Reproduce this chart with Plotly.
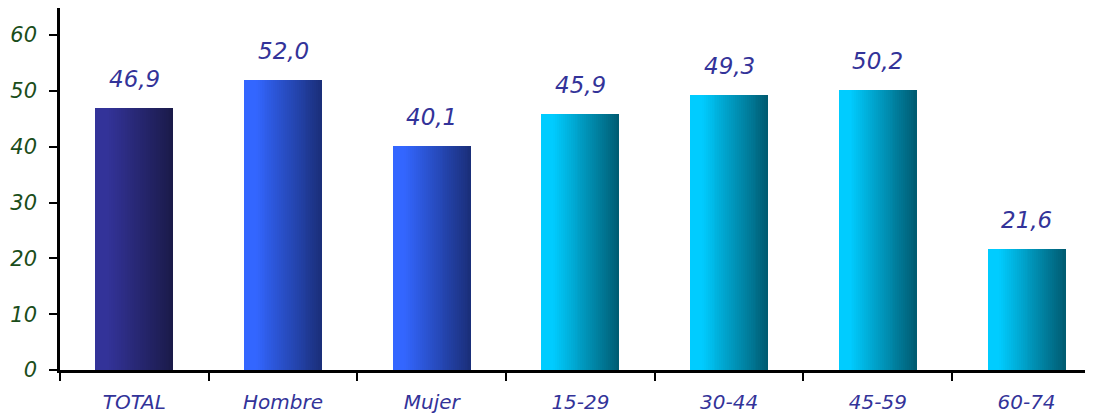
import plotly.graph_objects as go

categories = ["TOTAL", "Hombre", "Mujer", "15-29", "30-44", "45-59", "60-74"]
values = [46.9, 52.0, 40.1, 45.9, 49.3, 50.2, 21.6]
labels = ["46,9", "52,0", "40,1", "45,9", "49,3", "50,2", "21,6"]
left_colors = ["#333399", "#3366ff", "#3366ff", "#00ccff", "#00ccff", "#00ccff", "#00ccff"]
right_colors = ["#1a1a48", "#1a2e78", "#1a2e78", "#005a70", "#005a70", "#005a70", "#005a70"]

BAR_W = 0.525
N = 40


def hex2rgb(h):
    h = h.lstrip("#")
    return [int(h[i:i + 2], 16) for i in (0, 2, 4)]


def mix(c1, c2, t):
    a, b = hex2rgb(c1), hex2rgb(c2)
    return "rgb(%d,%d,%d)" % tuple(round(a[k] + (b[k] - a[k]) * t) for k in range(3))


fig = go.Figure()
step = BAR_W / N
for i in range(N):
    f = (i + 0.5) / N
    t = 0 if f < 0.15 else (f - 0.15) / 0.85
    cols = [mix(l, r, t) for l, r in zip(left_colors, right_colors)]
    w = step * (1.6 if i < N - 1 else 1.0)
    fig.add_trace(go.Bar(
        x=categories, y=values,
        width=w, offset=-BAR_W / 2 + i * step,
        marker=dict(color=cols, line=dict(width=0)),
        hoverinfo="skip", showlegend=False,
    ))

for c, v, lab in zip(categories, values, labels):
    fig.add_annotation(x=c, y=v, text=lab, showarrow=False, yanchor="bottom", yshift=14,
                       font=dict(family="DejaVu Sans", size=23, color="#333399", style="italic"))

# the page body has an 8px margin, so the figure is sized to fit inside it
fig.update_layout(
    width=1085, height=408,
    margin=dict(l=52, r=0, t=0, b=46, autoexpand=False),
    plot_bgcolor="white", paper_bgcolor="white",
    barmode="overlay", bargap=0,
    showlegend=False,
)
fig.update_xaxes(
    range=[-0.5, 6.447], showgrid=False, zeroline=False, automargin=False,
    showline=True, linecolor="black", linewidth=2.5,
    ticks="outside", ticklen=8, tickwidth=2, tickcolor="black", tickson="boundaries",
    ticklabelstandoff=12,
    tickfont=dict(family="DejaVu Sans", size=20, color="#333399", style="italic"),
)
fig.update_yaxes(
    range=[0, 64.84], showgrid=False, zeroline=False, automargin=False,
    showline=True, linecolor="black", linewidth=2.5,
    ticks="outside", ticklen=8, tickwidth=2, tickcolor="black",
    tickvals=[0, 10, 20, 30, 40, 50, 60], ticklabelstandoff=8,
    tickfont=dict(family="DejaVu Sans", size=21, color="#1a4d1a", style="italic"),
)

fig.write_html("out.html")
